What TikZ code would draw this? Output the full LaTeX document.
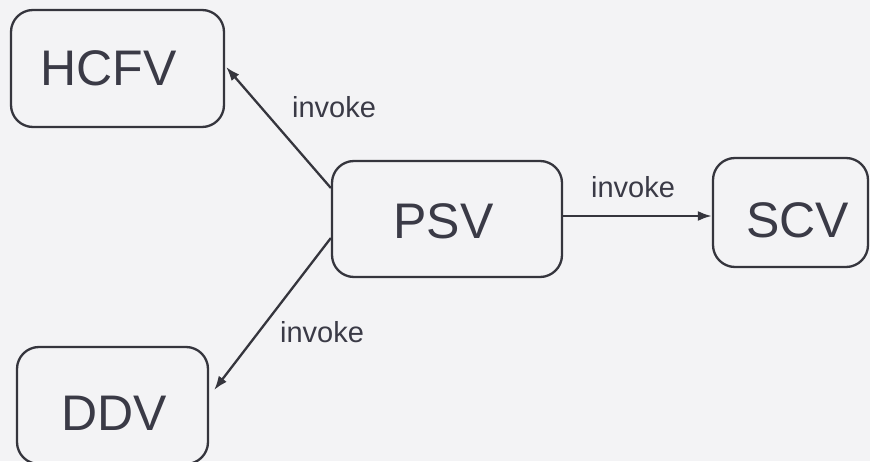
\documentclass[tikz,border=0pt]{standalone}
\usepackage{fontspec}
\setmainfont{Liberation Sans}
\usetikzlibrary{arrows.meta}
\definecolor{bgc}{HTML}{F3F3F5}
\definecolor{linec}{HTML}{35353D}
\definecolor{textc}{HTML}{3A3A46}
\tikzset{
  viewbox/.style={draw=linec, line width=2.3pt, rounded corners=22pt, inner sep=0pt},
  viewtext/.style={text=textc, font=\fontsize{50}{60}\selectfont, inner sep=0pt, anchor=base},
  lbl/.style={text=textc, font=\fontsize{29}{34}\selectfont, inner sep=0pt, anchor=base},
  arr/.style={draw=linec, line width=2.3pt, -{Latex[length=14pt,width=10pt]}}
}
\begin{document}
\begin{tikzpicture}[x=1pt,y=1pt]
  \fill[bgc] (0,0) rectangle (870,461);
  \useasboundingbox (0,0) rectangle (870,461);

  % view boxes
  \node[viewbox, minimum width=213pt, minimum height=117pt] (hcfv) at (117.5,392.5) {};
  \node[viewbox, minimum width=230pt, minimum height=116pt] (psv) at (447,242) {};
  \node[viewbox, minimum width=155pt, minimum height=109pt] (scv) at (790.5,248.5) {};
  \node[viewbox, minimum width=191pt, minimum height=117pt] (ddv) at (112.5,55.5) {};

  % view names
  \node[viewtext] (hcfvname) at (108.5,375) {HCFV};
  \node[viewtext] (psvname) at (443.5,222) {PSV};
  \node[viewtext] (scvname) at (797.5,223) {SCV};
  \node[viewtext] (ddvname) at (114,31) {DDV};

  % invocations from PSV
  \draw[arr] ([yshift=31pt]psv.west) -- ([shift={(1pt,1.5pt)}]hcfv.east);
  \draw[arr] ([yshift=-19pt]psv.west) -- ([shift={(5pt,15.5pt)}]ddv.east);
  \draw[arr] ([yshift=3pt]psv.east) -- ([yshift=3pt]psv.east -| scv.west);

  % labels
  \node[lbl] (l1) at (334,343) {invoke};
  \node[lbl] (l2) at (633,263) {invoke};
  \node[lbl] (l3) at (322,119) {invoke};
\end{tikzpicture}
\end{document}
